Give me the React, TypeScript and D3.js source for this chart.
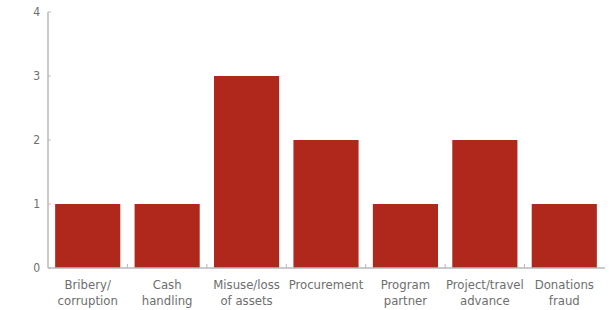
import React, { useEffect, useRef } from "react";
import * as d3 from "d3";

const width = 614;
const height = 310;

const categories = [
  ["Bribery/", "corruption"],
  ["Cash", "handling"],
  ["Misuse/loss", "of assets"],
  ["Procurement"],
  ["Program", "partner"],
  ["Project/travel", "advance"],
  ["Donations", "fraud"],
];
const counts = [1, 1, 3, 2, 1, 2, 1];
const yTicks = [0, 1, 2, 3, 4];

export default function App() {
  const ref = useRef<SVGSVGElement>(null);

  useEffect(() => {
    const svg = d3.select(ref.current);
    svg.selectAll("*").remove();

    const font = "'Liberation Sans Narrow', 'DejaVu Sans Condensed', 'Roboto', sans-serif";
    const textColor = "#6e6e6e";
    const axisColor = "#b8b8b8";

    const keys = categories.map((c) => c.join(" "));
    const x = d3
      .scaleBand()
      .domain(keys)
      .range([48, 604])
      .paddingInner(0.18)
      .paddingOuter(0.09);
    const y = d3.scaleLinear().domain([0, 4]).range([268, 12]);

    // bars
    svg
      .append("g")
      .selectAll("rect")
      .data(counts)
      .join("rect")
      .attr("x", (d, i) => x(keys[i])!)
      .attr("y", (d) => y(d))
      .attr("width", x.bandwidth())
      .attr("height", (d) => y(0) - y(d))
      .attr("fill", "#b0281c");

    // y axis
    const ya = svg.append("g");
    ya.append("line")
      .attr("x1", 48)
      .attr("x2", 48)
      .attr("y1", y(4))
      .attr("y2", y(0))
      .attr("stroke", axisColor)
      .attr("stroke-width", 1.5);
    ya.selectAll("line.tick")
      .data(yTicks)
      .join("line")
      .attr("class", "tick")
      .attr("x1", 48)
      .attr("x2", 51)
      .attr("y1", (d) => y(d))
      .attr("y2", (d) => y(d))
      .attr("stroke", axisColor);
    ya.selectAll("text")
      .data(yTicks)
      .join("text")
      .attr("x", 40)
      .attr("y", (d) => y(d))
      .attr("dy", "0.35em")
      .attr("text-anchor", "end")
      .attr("font-family", font)
      .attr("font-size", 12)
      .attr("fill", textColor)
      .text((d) => d);

    // x axis
    const xa = svg.append("g");
    xa.append("line")
      .attr("x1", 48)
      .attr("x2", 605)
      .attr("y1", y(0))
      .attr("y2", y(0))
      .attr("stroke", axisColor)
      .attr("stroke-width", 1.5);
    const gap = (x.step() - x.bandwidth()) / 2;
    xa.selectAll("line.tick")
      .data(keys.slice(1))
      .join("line")
      .attr("class", "tick")
      .attr("x1", (d) => x(d)! - gap)
      .attr("x2", (d) => x(d)! - gap)
      .attr("y1", y(0))
      .attr("y2", y(0) - 4)
      .attr("stroke", axisColor);

    const labels = xa
      .selectAll("text")
      .data(categories)
      .join("text")
      .attr("x", (d, i) => x(keys[i])! + x.bandwidth() / 2)
      .attr("y", 289)
      .attr("text-anchor", "middle")
      .attr("font-family", font)
      .attr("font-size", 13)
      .attr("fill", textColor);
    labels
      .selectAll("tspan")
      .data((d) => d)
      .join("tspan")
      .attr("x", function () {
        return (this.parentNode as SVGTextElement).getAttribute("x");
      })
      .attr("dy", (d, i) => (i === 0 ? 0 : 16))
      .text((d) => d);
  }, []);

  return (
    <svg
      ref={ref}
      width={width}
      height={height}
      style={{ position: "absolute", left: 0, top: 0, background: "#fff" }}
    />
  );
}
